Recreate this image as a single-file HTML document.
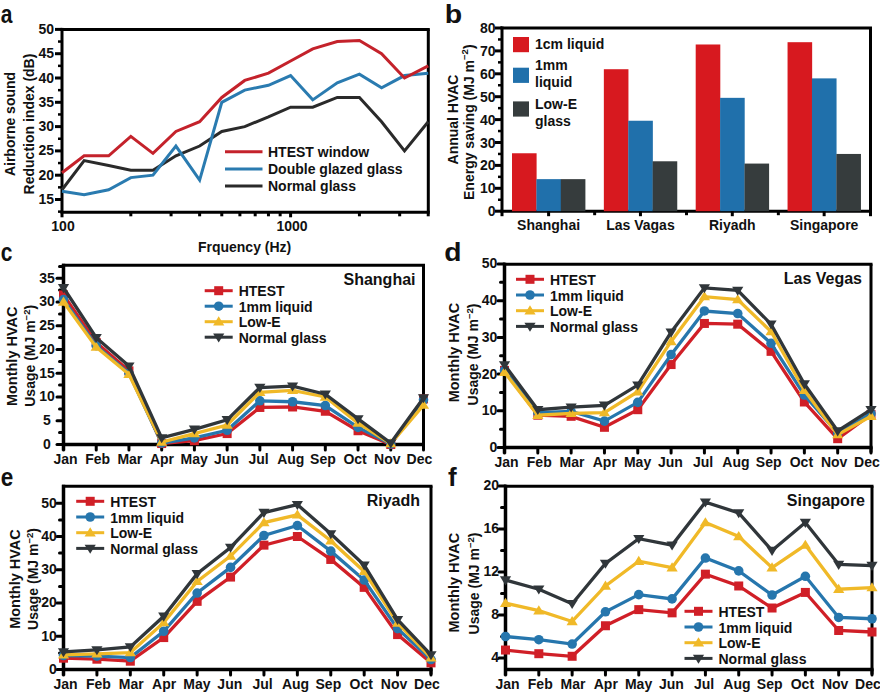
<!DOCTYPE html>
<html><head><meta charset="utf-8"><style>
html,body{margin:0;padding:0;background:#fff;width:880px;height:696px;overflow:hidden}
svg{display:block}
text{font-family:"Liberation Sans", sans-serif;fill:#111}
</style></head><body>
<svg width="880" height="696" viewBox="0 0 880 696">
<text transform="translate(0.8,22.7) scale(0.84,1)" font-size="25" font-weight="bold">a</text>
<text transform="translate(444.7,22.7) scale(1.14,1)" font-size="25" font-weight="bold">b</text>
<text transform="translate(0.8,261) scale(0.84,1)" font-size="25" font-weight="bold">c</text>
<text transform="translate(444.3,260.5) scale(1.13,1)" font-size="25" font-weight="bold">d</text>
<text transform="translate(0.8,486.4) scale(0.9,1)" font-size="25" font-weight="bold">e</text>
<text transform="translate(447.9,486.4) scale(1.04,1)" font-size="25" font-weight="bold">f</text>
<line x1="60.50" y1="29.40" x2="429.80" y2="29.40" stroke="#000" stroke-width="3" stroke-linecap="butt"/>
<line x1="428.30" y1="29.40" x2="428.30" y2="212.30" stroke="#000" stroke-width="3" stroke-linecap="butt"/>
<line x1="60.50" y1="212.30" x2="429.80" y2="212.30" stroke="#000" stroke-width="3" stroke-linecap="butt"/>
<line x1="62.00" y1="27.90" x2="62.00" y2="217.30" stroke="#000" stroke-width="3" stroke-linecap="butt"/>
<line x1="55.00" y1="199.50" x2="62.00" y2="199.50" stroke="#000" stroke-width="3" stroke-linecap="butt"/>
<text x="54.00" y="204.00" font-size="14" text-anchor="end" font-weight="bold" >15</text>
<line x1="55.00" y1="175.20" x2="62.00" y2="175.20" stroke="#000" stroke-width="3" stroke-linecap="butt"/>
<text x="54.00" y="179.70" font-size="14" text-anchor="end" font-weight="bold" >20</text>
<line x1="55.00" y1="150.90" x2="62.00" y2="150.90" stroke="#000" stroke-width="3" stroke-linecap="butt"/>
<text x="54.00" y="155.40" font-size="14" text-anchor="end" font-weight="bold" >25</text>
<line x1="55.00" y1="126.60" x2="62.00" y2="126.60" stroke="#000" stroke-width="3" stroke-linecap="butt"/>
<text x="54.00" y="131.10" font-size="14" text-anchor="end" font-weight="bold" >30</text>
<line x1="55.00" y1="102.30" x2="62.00" y2="102.30" stroke="#000" stroke-width="3" stroke-linecap="butt"/>
<text x="54.00" y="106.80" font-size="14" text-anchor="end" font-weight="bold" >35</text>
<line x1="55.00" y1="78.00" x2="62.00" y2="78.00" stroke="#000" stroke-width="3" stroke-linecap="butt"/>
<text x="54.00" y="82.50" font-size="14" text-anchor="end" font-weight="bold" >40</text>
<line x1="55.00" y1="53.70" x2="62.00" y2="53.70" stroke="#000" stroke-width="3" stroke-linecap="butt"/>
<text x="54.00" y="58.20" font-size="14" text-anchor="end" font-weight="bold" >45</text>
<line x1="55.00" y1="29.40" x2="62.00" y2="29.40" stroke="#000" stroke-width="3" stroke-linecap="butt"/>
<text x="54.00" y="33.90" font-size="14" text-anchor="end" font-weight="bold" >50</text>
<line x1="58.00" y1="211.65" x2="62.00" y2="211.65" stroke="#000" stroke-width="2.5" stroke-linecap="butt"/>
<line x1="58.00" y1="187.35" x2="62.00" y2="187.35" stroke="#000" stroke-width="2.5" stroke-linecap="butt"/>
<line x1="58.00" y1="163.05" x2="62.00" y2="163.05" stroke="#000" stroke-width="2.5" stroke-linecap="butt"/>
<line x1="58.00" y1="138.75" x2="62.00" y2="138.75" stroke="#000" stroke-width="2.5" stroke-linecap="butt"/>
<line x1="58.00" y1="114.45" x2="62.00" y2="114.45" stroke="#000" stroke-width="2.5" stroke-linecap="butt"/>
<line x1="58.00" y1="90.15" x2="62.00" y2="90.15" stroke="#000" stroke-width="2.5" stroke-linecap="butt"/>
<line x1="58.00" y1="65.85" x2="62.00" y2="65.85" stroke="#000" stroke-width="2.5" stroke-linecap="butt"/>
<line x1="58.00" y1="41.55" x2="62.00" y2="41.55" stroke="#000" stroke-width="2.5" stroke-linecap="butt"/>
<line x1="130.82" y1="212.30" x2="130.82" y2="216.30" stroke="#000" stroke-width="3" stroke-linecap="butt"/>
<line x1="171.07" y1="212.30" x2="171.07" y2="216.30" stroke="#000" stroke-width="3" stroke-linecap="butt"/>
<line x1="199.63" y1="212.30" x2="199.63" y2="216.30" stroke="#000" stroke-width="3" stroke-linecap="butt"/>
<line x1="221.78" y1="212.30" x2="221.78" y2="216.30" stroke="#000" stroke-width="3" stroke-linecap="butt"/>
<line x1="239.89" y1="212.30" x2="239.89" y2="216.30" stroke="#000" stroke-width="3" stroke-linecap="butt"/>
<line x1="255.19" y1="212.30" x2="255.19" y2="216.30" stroke="#000" stroke-width="3" stroke-linecap="butt"/>
<line x1="268.45" y1="212.30" x2="268.45" y2="216.30" stroke="#000" stroke-width="3" stroke-linecap="butt"/>
<line x1="280.14" y1="212.30" x2="280.14" y2="216.30" stroke="#000" stroke-width="3" stroke-linecap="butt"/>
<line x1="359.42" y1="212.30" x2="359.42" y2="216.30" stroke="#000" stroke-width="3" stroke-linecap="butt"/>
<line x1="399.67" y1="212.30" x2="399.67" y2="216.30" stroke="#000" stroke-width="3" stroke-linecap="butt"/>
<line x1="428.23" y1="212.30" x2="428.23" y2="216.30" stroke="#000" stroke-width="3" stroke-linecap="butt"/>
<line x1="290.60" y1="212.30" x2="290.60" y2="217.30" stroke="#000" stroke-width="3" stroke-linecap="butt"/>
<text x="63.00" y="231.00" font-size="14" text-anchor="middle" font-weight="bold" >100</text>
<text x="292.00" y="231.00" font-size="14" text-anchor="middle" font-weight="bold" >1000</text>
<text x="244.60" y="252.00" font-size="14" text-anchor="middle" font-weight="bold" >Frquency (Hz)</text>
<text transform="translate(14.8,124) rotate(-90)" font-size="14" text-anchor="middle" font-weight="bold">Airborne sound</text>
<text transform="translate(33.8,124) rotate(-90)" font-size="14" text-anchor="middle" font-weight="bold">Reduction index (dB)</text>
<polyline points="62.00,189.78 84.15,160.62 108.66,165.48 130.82,170.34 152.97,170.34 175.91,155.76 199.63,146.04 221.78,131.46 244.73,126.60 268.45,116.88 290.60,107.16 312.75,107.16 337.26,97.44 359.42,97.44 381.57,121.74 404.51,150.90 428.23,121.74" fill="none" stroke="#2a2a2a" stroke-width="3" stroke-linejoin="miter" stroke-miterlimit="3"/>
<polyline points="62.00,191.24 84.15,194.64 108.66,189.78 130.82,177.63 152.97,175.20 175.91,146.04 199.63,180.06 221.78,102.30 244.73,90.15 268.45,85.29 290.60,75.57 312.75,99.87 337.26,82.86 359.42,74.11 381.57,87.72 404.51,75.57 428.23,73.14" fill="none" stroke="#2a7bb0" stroke-width="3" stroke-linejoin="miter" stroke-miterlimit="3"/>
<polyline points="62.00,172.77 84.15,155.76 108.66,155.76 130.82,136.32 152.97,153.33 175.91,131.46 199.63,121.74 221.78,97.44 244.73,80.43 268.45,73.14 290.60,60.99 312.75,48.84 337.26,41.55 359.42,40.58 381.57,53.70 404.51,78.00 428.23,65.85" fill="none" stroke="#c4222b" stroke-width="3" stroke-linejoin="miter" stroke-miterlimit="3"/>
<line x1="225.00" y1="151.80" x2="262.50" y2="151.80" stroke="#c4222b" stroke-width="3" stroke-linecap="butt"/>
<text x="268.00" y="156.80" font-size="14" text-anchor="start" font-weight="bold" >HTEST window</text>
<line x1="225.00" y1="168.95" x2="262.50" y2="168.95" stroke="#2a7bb0" stroke-width="3" stroke-linecap="butt"/>
<text x="268.00" y="173.95" font-size="14" text-anchor="start" font-weight="bold" >Double glazed glass</text>
<line x1="225.00" y1="186.10" x2="262.50" y2="186.10" stroke="#2a2a2a" stroke-width="3" stroke-linecap="butt"/>
<text x="268.00" y="191.10" font-size="14" text-anchor="start" font-weight="bold" >Normal glass</text>
<line x1="500.50" y1="28.00" x2="872.00" y2="28.00" stroke="#000" stroke-width="3" stroke-linecap="butt"/>
<line x1="870.50" y1="28.00" x2="870.50" y2="216.20" stroke="#000" stroke-width="3" stroke-linecap="butt"/>
<line x1="500.50" y1="211.20" x2="872.00" y2="211.20" stroke="#000" stroke-width="3" stroke-linecap="butt"/>
<line x1="502.00" y1="26.50" x2="502.00" y2="216.20" stroke="#000" stroke-width="3" stroke-linecap="butt"/>
<line x1="495.00" y1="211.20" x2="502.00" y2="211.20" stroke="#000" stroke-width="3" stroke-linecap="butt"/>
<text x="495.50" y="216.20" font-size="14" text-anchor="end" font-weight="bold" >0</text>
<line x1="495.00" y1="188.30" x2="502.00" y2="188.30" stroke="#000" stroke-width="3" stroke-linecap="butt"/>
<text x="495.50" y="193.30" font-size="14" text-anchor="end" font-weight="bold" >10</text>
<line x1="495.00" y1="165.40" x2="502.00" y2="165.40" stroke="#000" stroke-width="3" stroke-linecap="butt"/>
<text x="495.50" y="170.40" font-size="14" text-anchor="end" font-weight="bold" >20</text>
<line x1="495.00" y1="142.50" x2="502.00" y2="142.50" stroke="#000" stroke-width="3" stroke-linecap="butt"/>
<text x="495.50" y="147.50" font-size="14" text-anchor="end" font-weight="bold" >30</text>
<line x1="495.00" y1="119.60" x2="502.00" y2="119.60" stroke="#000" stroke-width="3" stroke-linecap="butt"/>
<text x="495.50" y="124.60" font-size="14" text-anchor="end" font-weight="bold" >40</text>
<line x1="495.00" y1="96.70" x2="502.00" y2="96.70" stroke="#000" stroke-width="3" stroke-linecap="butt"/>
<text x="495.50" y="101.70" font-size="14" text-anchor="end" font-weight="bold" >50</text>
<line x1="495.00" y1="73.80" x2="502.00" y2="73.80" stroke="#000" stroke-width="3" stroke-linecap="butt"/>
<text x="495.50" y="78.80" font-size="14" text-anchor="end" font-weight="bold" >60</text>
<line x1="495.00" y1="50.90" x2="502.00" y2="50.90" stroke="#000" stroke-width="3" stroke-linecap="butt"/>
<text x="495.50" y="55.90" font-size="14" text-anchor="end" font-weight="bold" >70</text>
<line x1="495.00" y1="28.00" x2="502.00" y2="28.00" stroke="#000" stroke-width="3" stroke-linecap="butt"/>
<text x="495.50" y="33.00" font-size="14" text-anchor="end" font-weight="bold" >80</text>
<line x1="498.00" y1="199.75" x2="502.00" y2="199.75" stroke="#000" stroke-width="2.5" stroke-linecap="butt"/>
<line x1="498.00" y1="176.85" x2="502.00" y2="176.85" stroke="#000" stroke-width="2.5" stroke-linecap="butt"/>
<line x1="498.00" y1="153.95" x2="502.00" y2="153.95" stroke="#000" stroke-width="2.5" stroke-linecap="butt"/>
<line x1="498.00" y1="131.05" x2="502.00" y2="131.05" stroke="#000" stroke-width="2.5" stroke-linecap="butt"/>
<line x1="498.00" y1="108.15" x2="502.00" y2="108.15" stroke="#000" stroke-width="2.5" stroke-linecap="butt"/>
<line x1="498.00" y1="85.25" x2="502.00" y2="85.25" stroke="#000" stroke-width="2.5" stroke-linecap="butt"/>
<line x1="498.00" y1="62.35" x2="502.00" y2="62.35" stroke="#000" stroke-width="2.5" stroke-linecap="butt"/>
<line x1="498.00" y1="39.45" x2="502.00" y2="39.45" stroke="#000" stroke-width="2.5" stroke-linecap="butt"/>
<rect x="512.00" y="153.26" width="24.6" height="57.94" fill="#d7191f"/>
<rect x="536.40" y="179.14" width="24.6" height="32.06" fill="#2070ab"/>
<rect x="560.80" y="179.14" width="24.6" height="32.06" fill="#363c3d"/>
<line x1="548.60" y1="211.20" x2="548.60" y2="216.20" stroke="#000" stroke-width="3" stroke-linecap="butt"/>
<text x="548.60" y="230.00" font-size="14" text-anchor="middle" font-weight="bold" >Shanghai</text>
<rect x="603.85" y="69.22" width="24.6" height="141.98" fill="#d7191f"/>
<rect x="628.25" y="120.74" width="24.6" height="90.45" fill="#2070ab"/>
<rect x="652.65" y="161.28" width="24.6" height="49.92" fill="#363c3d"/>
<line x1="640.45" y1="211.20" x2="640.45" y2="216.20" stroke="#000" stroke-width="3" stroke-linecap="butt"/>
<line x1="594.65" y1="211.20" x2="594.65" y2="215.20" stroke="#000" stroke-width="3" stroke-linecap="butt"/>
<text x="640.45" y="230.00" font-size="14" text-anchor="middle" font-weight="bold" >Las Vagas</text>
<rect x="695.70" y="44.49" width="24.6" height="166.71" fill="#d7191f"/>
<rect x="720.10" y="97.84" width="24.6" height="113.36" fill="#2070ab"/>
<rect x="744.50" y="163.57" width="24.6" height="47.63" fill="#363c3d"/>
<line x1="732.30" y1="211.20" x2="732.30" y2="216.20" stroke="#000" stroke-width="3" stroke-linecap="butt"/>
<line x1="686.50" y1="211.20" x2="686.50" y2="215.20" stroke="#000" stroke-width="3" stroke-linecap="butt"/>
<text x="732.30" y="230.00" font-size="14" text-anchor="middle" font-weight="bold" >Riyadh</text>
<rect x="787.55" y="42.20" width="24.6" height="169.00" fill="#d7191f"/>
<rect x="811.95" y="78.38" width="24.6" height="132.82" fill="#2070ab"/>
<rect x="836.35" y="153.95" width="24.6" height="57.25" fill="#363c3d"/>
<line x1="824.15" y1="211.20" x2="824.15" y2="216.20" stroke="#000" stroke-width="3" stroke-linecap="butt"/>
<line x1="778.35" y1="211.20" x2="778.35" y2="215.20" stroke="#000" stroke-width="3" stroke-linecap="butt"/>
<text x="824.15" y="230.00" font-size="14" text-anchor="middle" font-weight="bold" >Singapore</text>
<text transform="translate(458,119.5) rotate(-90)" font-size="14" text-anchor="middle" font-weight="bold">Annual HVAC</text>
<text transform="translate(473.7,122.2) rotate(-90)" font-size="14" text-anchor="middle" font-weight="bold">Energy saving (MJ m<tspan dy="-5.5" font-size="9.5">−2</tspan><tspan dy="5.5">)</tspan></text>
<rect x="513" y="37.0" width="16" height="15.2" fill="#d7191f"/>
<text x="535.00" y="49.20" font-size="14" text-anchor="start" font-weight="bold" >1cm liquid</text>
<rect x="513" y="67.7" width="16" height="15.2" fill="#2070ab"/>
<text x="535.00" y="69.50" font-size="14" text-anchor="start" font-weight="bold" >1mm</text>
<text x="535.00" y="87.20" font-size="14" text-anchor="start" font-weight="bold" >liquid</text>
<rect x="513" y="101.4" width="16" height="15.2" fill="#363c3d"/>
<text x="535.00" y="108.50" font-size="14" text-anchor="start" font-weight="bold" >Low-E</text>
<text x="535.00" y="126.20" font-size="14" text-anchor="start" font-weight="bold" >glass</text>
<line x1="62.00" y1="265.30" x2="425.00" y2="265.30" stroke="#000" stroke-width="3" stroke-linecap="butt"/>
<line x1="423.50" y1="265.30" x2="423.50" y2="449.50" stroke="#000" stroke-width="3" stroke-linecap="butt"/>
<line x1="62.00" y1="444.50" x2="425.00" y2="444.50" stroke="#000" stroke-width="3.5" stroke-linecap="butt"/>
<line x1="63.50" y1="263.80" x2="63.50" y2="450.50" stroke="#000" stroke-width="3.5" stroke-linecap="butt"/>
<line x1="57.00" y1="444.50" x2="63.50" y2="444.50" stroke="#000" stroke-width="3" stroke-linecap="round"/>
<text x="47.00" y="448.90" font-size="14" text-anchor="middle" font-weight="bold" >0</text>
<line x1="57.00" y1="420.75" x2="63.50" y2="420.75" stroke="#000" stroke-width="3" stroke-linecap="round"/>
<text x="47.00" y="425.15" font-size="14" text-anchor="middle" font-weight="bold" >5</text>
<line x1="57.00" y1="397.00" x2="63.50" y2="397.00" stroke="#000" stroke-width="3" stroke-linecap="round"/>
<text x="47.00" y="401.40" font-size="14" text-anchor="middle" font-weight="bold" >10</text>
<line x1="57.00" y1="373.25" x2="63.50" y2="373.25" stroke="#000" stroke-width="3" stroke-linecap="round"/>
<text x="47.00" y="377.65" font-size="14" text-anchor="middle" font-weight="bold" >15</text>
<line x1="57.00" y1="349.50" x2="63.50" y2="349.50" stroke="#000" stroke-width="3" stroke-linecap="round"/>
<text x="47.00" y="353.90" font-size="14" text-anchor="middle" font-weight="bold" >20</text>
<line x1="57.00" y1="325.75" x2="63.50" y2="325.75" stroke="#000" stroke-width="3" stroke-linecap="round"/>
<text x="47.00" y="330.15" font-size="14" text-anchor="middle" font-weight="bold" >25</text>
<line x1="57.00" y1="302.00" x2="63.50" y2="302.00" stroke="#000" stroke-width="3" stroke-linecap="round"/>
<text x="47.00" y="306.40" font-size="14" text-anchor="middle" font-weight="bold" >30</text>
<line x1="57.00" y1="278.25" x2="63.50" y2="278.25" stroke="#000" stroke-width="3" stroke-linecap="round"/>
<text x="47.00" y="282.65" font-size="14" text-anchor="middle" font-weight="bold" >35</text>
<line x1="59.50" y1="432.62" x2="63.50" y2="432.62" stroke="#000" stroke-width="3" stroke-linecap="round"/>
<line x1="59.50" y1="408.88" x2="63.50" y2="408.88" stroke="#000" stroke-width="3" stroke-linecap="round"/>
<line x1="59.50" y1="385.12" x2="63.50" y2="385.12" stroke="#000" stroke-width="3" stroke-linecap="round"/>
<line x1="59.50" y1="361.38" x2="63.50" y2="361.38" stroke="#000" stroke-width="3" stroke-linecap="round"/>
<line x1="59.50" y1="337.62" x2="63.50" y2="337.62" stroke="#000" stroke-width="3" stroke-linecap="round"/>
<line x1="59.50" y1="313.88" x2="63.50" y2="313.88" stroke="#000" stroke-width="3" stroke-linecap="round"/>
<line x1="59.50" y1="290.12" x2="63.50" y2="290.12" stroke="#000" stroke-width="3" stroke-linecap="round"/>
<line x1="59.50" y1="266.38" x2="63.50" y2="266.38" stroke="#000" stroke-width="3" stroke-linecap="round"/>
<line x1="63.50" y1="444.50" x2="63.50" y2="450.00" stroke="#000" stroke-width="3" stroke-linecap="round"/>
<text x="65.50" y="463.70" font-size="14" text-anchor="middle" font-weight="bold" >Jan</text>
<line x1="96.23" y1="444.50" x2="96.23" y2="450.00" stroke="#000" stroke-width="3" stroke-linecap="round"/>
<text x="97.68" y="463.70" font-size="14" text-anchor="middle" font-weight="bold" >Feb</text>
<line x1="128.95" y1="444.50" x2="128.95" y2="450.00" stroke="#000" stroke-width="3" stroke-linecap="round"/>
<text x="129.85" y="463.70" font-size="14" text-anchor="middle" font-weight="bold" >Mar</text>
<line x1="161.68" y1="444.50" x2="161.68" y2="450.00" stroke="#000" stroke-width="3" stroke-linecap="round"/>
<text x="162.03" y="463.70" font-size="14" text-anchor="middle" font-weight="bold" >Apr</text>
<line x1="194.41" y1="444.50" x2="194.41" y2="450.00" stroke="#000" stroke-width="3" stroke-linecap="round"/>
<text x="194.21" y="463.70" font-size="14" text-anchor="middle" font-weight="bold" >May</text>
<line x1="227.14" y1="444.50" x2="227.14" y2="450.00" stroke="#000" stroke-width="3" stroke-linecap="round"/>
<text x="226.39" y="463.70" font-size="14" text-anchor="middle" font-weight="bold" >Jun</text>
<line x1="259.86" y1="444.50" x2="259.86" y2="450.00" stroke="#000" stroke-width="3" stroke-linecap="round"/>
<text x="258.56" y="463.70" font-size="14" text-anchor="middle" font-weight="bold" >Jul</text>
<line x1="292.59" y1="444.50" x2="292.59" y2="450.00" stroke="#000" stroke-width="3" stroke-linecap="round"/>
<text x="290.74" y="463.70" font-size="14" text-anchor="middle" font-weight="bold" >Aug</text>
<line x1="325.32" y1="444.50" x2="325.32" y2="450.00" stroke="#000" stroke-width="3" stroke-linecap="round"/>
<text x="322.92" y="463.70" font-size="14" text-anchor="middle" font-weight="bold" >Sep</text>
<line x1="358.05" y1="444.50" x2="358.05" y2="450.00" stroke="#000" stroke-width="3" stroke-linecap="round"/>
<text x="355.10" y="463.70" font-size="14" text-anchor="middle" font-weight="bold" >Oct</text>
<line x1="390.77" y1="444.50" x2="390.77" y2="450.00" stroke="#000" stroke-width="3" stroke-linecap="round"/>
<text x="387.27" y="463.70" font-size="14" text-anchor="middle" font-weight="bold" >Nov</text>
<line x1="423.50" y1="444.50" x2="423.50" y2="450.00" stroke="#000" stroke-width="3" stroke-linecap="round"/>
<text x="419.45" y="463.70" font-size="14" text-anchor="middle" font-weight="bold" >Dec</text>
<polyline points="63.50,294.88 96.23,342.38 128.95,370.88 161.68,443.55 194.41,440.70 227.14,433.57 259.86,407.45 292.59,406.98 325.32,411.25 358.05,430.73 390.77,444.50 423.50,398.90" fill="none" stroke="#d01f27" stroke-width="3.3" stroke-linejoin="miter" stroke-miterlimit="3"/>
<rect x="59.00" y="290.38" width="9" height="9" fill="#d01f27"/>
<rect x="91.73" y="337.88" width="9" height="9" fill="#d01f27"/>
<rect x="124.45" y="366.38" width="9" height="9" fill="#d01f27"/>
<rect x="157.18" y="439.05" width="9" height="9" fill="#d01f27"/>
<rect x="189.91" y="436.20" width="9" height="9" fill="#d01f27"/>
<rect x="222.64" y="429.07" width="9" height="9" fill="#d01f27"/>
<rect x="255.36" y="402.95" width="9" height="9" fill="#d01f27"/>
<rect x="288.09" y="402.48" width="9" height="9" fill="#d01f27"/>
<rect x="320.82" y="406.75" width="9" height="9" fill="#d01f27"/>
<rect x="353.55" y="426.23" width="9" height="9" fill="#d01f27"/>
<rect x="386.27" y="440.00" width="9" height="9" fill="#d01f27"/>
<rect x="419.00" y="394.40" width="9" height="9" fill="#d01f27"/>
<polyline points="63.50,299.62 96.23,345.70 128.95,373.25 161.68,443.07 194.41,437.85 227.14,430.25 259.86,400.80 292.59,401.75 325.32,405.55 358.05,427.40 390.77,444.02 423.50,399.85" fill="none" stroke="#2676ad" stroke-width="3.3" stroke-linejoin="miter" stroke-miterlimit="3"/>
<circle cx="63.50" cy="299.62" r="4.8" fill="#2676ad"/>
<circle cx="96.23" cy="345.70" r="4.8" fill="#2676ad"/>
<circle cx="128.95" cy="373.25" r="4.8" fill="#2676ad"/>
<circle cx="161.68" cy="443.07" r="4.8" fill="#2676ad"/>
<circle cx="194.41" cy="437.85" r="4.8" fill="#2676ad"/>
<circle cx="227.14" cy="430.25" r="4.8" fill="#2676ad"/>
<circle cx="259.86" cy="400.80" r="4.8" fill="#2676ad"/>
<circle cx="292.59" cy="401.75" r="4.8" fill="#2676ad"/>
<circle cx="325.32" cy="405.55" r="4.8" fill="#2676ad"/>
<circle cx="358.05" cy="427.40" r="4.8" fill="#2676ad"/>
<circle cx="390.77" cy="444.02" r="4.8" fill="#2676ad"/>
<circle cx="423.50" cy="399.85" r="4.8" fill="#2676ad"/>
<polyline points="63.50,302.00 96.23,347.12 128.95,374.20 161.68,442.12 194.41,433.57 227.14,425.02 259.86,392.25 292.59,390.35 325.32,397.00 358.05,423.12 390.77,443.55 423.50,405.07" fill="none" stroke="#f0b928" stroke-width="3.3" stroke-linejoin="miter" stroke-miterlimit="3"/>
<polygon points="63.50,296.60 69.10,305.70 57.90,305.70" fill="#f0b928"/>
<polygon points="96.23,341.73 101.83,350.82 90.63,350.82" fill="#f0b928"/>
<polygon points="128.95,368.80 134.55,377.90 123.35,377.90" fill="#f0b928"/>
<polygon points="161.68,436.73 167.28,445.82 156.08,445.82" fill="#f0b928"/>
<polygon points="194.41,428.18 200.01,437.27 188.81,437.27" fill="#f0b928"/>
<polygon points="227.14,419.62 232.74,428.72 221.54,428.72" fill="#f0b928"/>
<polygon points="259.86,386.85 265.46,395.95 254.26,395.95" fill="#f0b928"/>
<polygon points="292.59,384.95 298.19,394.05 286.99,394.05" fill="#f0b928"/>
<polygon points="325.32,391.60 330.92,400.70 319.72,400.70" fill="#f0b928"/>
<polygon points="358.05,417.73 363.65,426.82 352.45,426.82" fill="#f0b928"/>
<polygon points="390.77,438.15 396.37,447.25 385.17,447.25" fill="#f0b928"/>
<polygon points="423.50,399.68 429.10,408.77 417.90,408.77" fill="#f0b928"/>
<polyline points="63.50,287.75 96.23,337.62 128.95,366.12 161.68,437.85 194.41,429.30 227.14,419.80 259.86,387.50 292.59,386.07 325.32,394.15 358.05,418.85 390.77,443.07 423.50,397.95" fill="none" stroke="#30363a" stroke-width="3.3" stroke-linejoin="miter" stroke-miterlimit="3"/>
<polygon points="63.50,293.15 69.10,284.05 57.90,284.05" fill="#30363a"/>
<polygon points="96.23,343.02 101.83,333.93 90.63,333.93" fill="#30363a"/>
<polygon points="128.95,371.52 134.55,362.43 123.35,362.43" fill="#30363a"/>
<polygon points="161.68,443.25 167.28,434.15 156.08,434.15" fill="#30363a"/>
<polygon points="194.41,434.70 200.01,425.60 188.81,425.60" fill="#30363a"/>
<polygon points="227.14,425.20 232.74,416.10 221.54,416.10" fill="#30363a"/>
<polygon points="259.86,392.90 265.46,383.80 254.26,383.80" fill="#30363a"/>
<polygon points="292.59,391.47 298.19,382.38 286.99,382.38" fill="#30363a"/>
<polygon points="325.32,399.55 330.92,390.45 319.72,390.45" fill="#30363a"/>
<polygon points="358.05,424.25 363.65,415.15 352.45,415.15" fill="#30363a"/>
<polygon points="390.77,448.47 396.37,439.38 385.17,439.38" fill="#30363a"/>
<polygon points="423.50,403.35 429.10,394.25 417.90,394.25" fill="#30363a"/>
<text x="415.50" y="285.00" font-size="16" text-anchor="end" font-weight="bold" >Shanghai</text>
<line x1="204.70" y1="290.70" x2="232.70" y2="290.70" stroke="#d01f27" stroke-width="3" stroke-linecap="butt"/>
<rect x="214.20" y="286.20" width="9" height="9" fill="#d01f27"/>
<text x="238.70" y="296.20" font-size="14" text-anchor="start" font-weight="bold" >HTEST</text>
<line x1="204.70" y1="306.20" x2="232.70" y2="306.20" stroke="#2676ad" stroke-width="3" stroke-linecap="butt"/>
<circle cx="218.70" cy="306.20" r="4.8" fill="#2676ad"/>
<text x="238.70" y="311.70" font-size="14" text-anchor="start" font-weight="bold" >1mm liquid</text>
<line x1="204.70" y1="321.70" x2="232.70" y2="321.70" stroke="#f0b928" stroke-width="3" stroke-linecap="butt"/>
<polygon points="218.70,316.30 224.30,325.40 213.10,325.40" fill="#f0b928"/>
<text x="238.70" y="327.20" font-size="14" text-anchor="start" font-weight="bold" >Low-E</text>
<line x1="204.70" y1="337.20" x2="232.70" y2="337.20" stroke="#30363a" stroke-width="3" stroke-linecap="butt"/>
<polygon points="218.70,342.60 224.30,333.50 213.10,333.50" fill="#30363a"/>
<text x="238.70" y="342.70" font-size="14" text-anchor="start" font-weight="bold" >Normal glass</text>
<text transform="translate(17.2,356.3) rotate(-90)" font-size="14.5" text-anchor="middle" font-weight="bold">Monthly HVAC</text>
<text transform="translate(35.3,355.8) rotate(-90)" font-size="14" text-anchor="middle" font-weight="bold">Usage (MJ m<tspan dy="-5.5" font-size="9.5">−2</tspan><tspan dy="5.5">)</tspan></text>
<line x1="503.00" y1="264.20" x2="872.50" y2="264.20" stroke="#000" stroke-width="3" stroke-linecap="butt"/>
<line x1="871.00" y1="264.20" x2="871.00" y2="452.50" stroke="#000" stroke-width="3" stroke-linecap="butt"/>
<line x1="503.00" y1="447.50" x2="872.50" y2="447.50" stroke="#000" stroke-width="3.5" stroke-linecap="butt"/>
<line x1="504.50" y1="262.70" x2="504.50" y2="453.50" stroke="#000" stroke-width="3.5" stroke-linecap="butt"/>
<line x1="498.00" y1="447.50" x2="504.50" y2="447.50" stroke="#000" stroke-width="3" stroke-linecap="round"/>
<text x="497.30" y="451.90" font-size="14" text-anchor="end" font-weight="bold" >0</text>
<line x1="498.00" y1="410.80" x2="504.50" y2="410.80" stroke="#000" stroke-width="3" stroke-linecap="round"/>
<text x="497.30" y="415.20" font-size="14" text-anchor="end" font-weight="bold" >10</text>
<line x1="498.00" y1="374.10" x2="504.50" y2="374.10" stroke="#000" stroke-width="3" stroke-linecap="round"/>
<text x="497.30" y="378.50" font-size="14" text-anchor="end" font-weight="bold" >20</text>
<line x1="498.00" y1="337.40" x2="504.50" y2="337.40" stroke="#000" stroke-width="3" stroke-linecap="round"/>
<text x="497.30" y="341.80" font-size="14" text-anchor="end" font-weight="bold" >30</text>
<line x1="498.00" y1="300.70" x2="504.50" y2="300.70" stroke="#000" stroke-width="3" stroke-linecap="round"/>
<text x="497.30" y="305.10" font-size="14" text-anchor="end" font-weight="bold" >40</text>
<line x1="498.00" y1="264.00" x2="504.50" y2="264.00" stroke="#000" stroke-width="3" stroke-linecap="round"/>
<text x="497.30" y="268.40" font-size="14" text-anchor="end" font-weight="bold" >50</text>
<line x1="500.50" y1="429.15" x2="504.50" y2="429.15" stroke="#000" stroke-width="3" stroke-linecap="round"/>
<line x1="500.50" y1="392.45" x2="504.50" y2="392.45" stroke="#000" stroke-width="3" stroke-linecap="round"/>
<line x1="500.50" y1="355.75" x2="504.50" y2="355.75" stroke="#000" stroke-width="3" stroke-linecap="round"/>
<line x1="500.50" y1="319.05" x2="504.50" y2="319.05" stroke="#000" stroke-width="3" stroke-linecap="round"/>
<line x1="500.50" y1="282.35" x2="504.50" y2="282.35" stroke="#000" stroke-width="3" stroke-linecap="round"/>
<line x1="504.50" y1="447.50" x2="504.50" y2="453.00" stroke="#000" stroke-width="3" stroke-linecap="round"/>
<text x="506.50" y="466.70" font-size="14" text-anchor="middle" font-weight="bold" >Jan</text>
<line x1="537.82" y1="447.50" x2="537.82" y2="453.00" stroke="#000" stroke-width="3" stroke-linecap="round"/>
<text x="539.27" y="466.70" font-size="14" text-anchor="middle" font-weight="bold" >Feb</text>
<line x1="571.14" y1="447.50" x2="571.14" y2="453.00" stroke="#000" stroke-width="3" stroke-linecap="round"/>
<text x="572.04" y="466.70" font-size="14" text-anchor="middle" font-weight="bold" >Mar</text>
<line x1="604.45" y1="447.50" x2="604.45" y2="453.00" stroke="#000" stroke-width="3" stroke-linecap="round"/>
<text x="604.80" y="466.70" font-size="14" text-anchor="middle" font-weight="bold" >Apr</text>
<line x1="637.77" y1="447.50" x2="637.77" y2="453.00" stroke="#000" stroke-width="3" stroke-linecap="round"/>
<text x="637.57" y="466.70" font-size="14" text-anchor="middle" font-weight="bold" >May</text>
<line x1="671.09" y1="447.50" x2="671.09" y2="453.00" stroke="#000" stroke-width="3" stroke-linecap="round"/>
<text x="670.34" y="466.70" font-size="14" text-anchor="middle" font-weight="bold" >Jun</text>
<line x1="704.41" y1="447.50" x2="704.41" y2="453.00" stroke="#000" stroke-width="3" stroke-linecap="round"/>
<text x="703.11" y="466.70" font-size="14" text-anchor="middle" font-weight="bold" >Jul</text>
<line x1="737.73" y1="447.50" x2="737.73" y2="453.00" stroke="#000" stroke-width="3" stroke-linecap="round"/>
<text x="735.88" y="466.70" font-size="14" text-anchor="middle" font-weight="bold" >Aug</text>
<line x1="771.05" y1="447.50" x2="771.05" y2="453.00" stroke="#000" stroke-width="3" stroke-linecap="round"/>
<text x="768.65" y="466.70" font-size="14" text-anchor="middle" font-weight="bold" >Sep</text>
<line x1="804.36" y1="447.50" x2="804.36" y2="453.00" stroke="#000" stroke-width="3" stroke-linecap="round"/>
<text x="801.41" y="466.70" font-size="14" text-anchor="middle" font-weight="bold" >Oct</text>
<line x1="837.68" y1="447.50" x2="837.68" y2="453.00" stroke="#000" stroke-width="3" stroke-linecap="round"/>
<text x="834.18" y="466.70" font-size="14" text-anchor="middle" font-weight="bold" >Nov</text>
<line x1="871.00" y1="447.50" x2="871.00" y2="453.00" stroke="#000" stroke-width="3" stroke-linecap="round"/>
<text x="866.95" y="466.70" font-size="14" text-anchor="middle" font-weight="bold" >Dec</text>
<polyline points="504.50,370.43 537.82,415.20 571.14,416.31 604.45,427.31 637.77,409.70 671.09,364.56 704.41,323.45 737.73,324.19 771.05,351.35 804.36,401.99 837.68,438.69 871.00,414.47" fill="none" stroke="#d01f27" stroke-width="3.3" stroke-linejoin="miter" stroke-miterlimit="3"/>
<rect x="500.00" y="365.93" width="9" height="9" fill="#d01f27"/>
<rect x="533.32" y="410.70" width="9" height="9" fill="#d01f27"/>
<rect x="566.64" y="411.81" width="9" height="9" fill="#d01f27"/>
<rect x="599.95" y="422.81" width="9" height="9" fill="#d01f27"/>
<rect x="633.27" y="405.20" width="9" height="9" fill="#d01f27"/>
<rect x="666.59" y="360.06" width="9" height="9" fill="#d01f27"/>
<rect x="699.91" y="318.95" width="9" height="9" fill="#d01f27"/>
<rect x="733.23" y="319.69" width="9" height="9" fill="#d01f27"/>
<rect x="766.55" y="346.85" width="9" height="9" fill="#d01f27"/>
<rect x="799.86" y="397.49" width="9" height="9" fill="#d01f27"/>
<rect x="833.18" y="434.19" width="9" height="9" fill="#d01f27"/>
<rect x="866.50" y="409.97" width="9" height="9" fill="#d01f27"/>
<polyline points="504.50,370.43 537.82,412.63 571.14,411.53 604.45,421.08 637.77,402.36 671.09,354.65 704.41,310.98 737.73,313.55 771.05,343.27 804.36,395.02 837.68,433.19 871.00,413.74" fill="none" stroke="#2676ad" stroke-width="3.3" stroke-linejoin="miter" stroke-miterlimit="3"/>
<circle cx="504.50" cy="370.43" r="4.8" fill="#2676ad"/>
<circle cx="537.82" cy="412.63" r="4.8" fill="#2676ad"/>
<circle cx="571.14" cy="411.53" r="4.8" fill="#2676ad"/>
<circle cx="604.45" cy="421.08" r="4.8" fill="#2676ad"/>
<circle cx="637.77" cy="402.36" r="4.8" fill="#2676ad"/>
<circle cx="671.09" cy="354.65" r="4.8" fill="#2676ad"/>
<circle cx="704.41" cy="310.98" r="4.8" fill="#2676ad"/>
<circle cx="737.73" cy="313.55" r="4.8" fill="#2676ad"/>
<circle cx="771.05" cy="343.27" r="4.8" fill="#2676ad"/>
<circle cx="804.36" cy="395.02" r="4.8" fill="#2676ad"/>
<circle cx="837.68" cy="433.19" r="4.8" fill="#2676ad"/>
<circle cx="871.00" cy="413.74" r="4.8" fill="#2676ad"/>
<polyline points="504.50,372.26 537.82,415.20 571.14,413.37 604.45,412.63 637.77,391.72 671.09,341.44 704.41,296.66 737.73,299.60 771.05,331.53 804.36,390.25 837.68,434.65 871.00,416.31" fill="none" stroke="#f0b928" stroke-width="3.3" stroke-linejoin="miter" stroke-miterlimit="3"/>
<polygon points="504.50,366.87 510.10,375.96 498.90,375.96" fill="#f0b928"/>
<polygon points="537.82,409.80 543.42,418.90 532.22,418.90" fill="#f0b928"/>
<polygon points="571.14,407.97 576.74,417.07 565.54,417.07" fill="#f0b928"/>
<polygon points="604.45,407.24 610.05,416.33 598.85,416.33" fill="#f0b928"/>
<polygon points="637.77,386.32 643.37,395.42 632.17,395.42" fill="#f0b928"/>
<polygon points="671.09,336.04 676.69,345.14 665.49,345.14" fill="#f0b928"/>
<polygon points="704.41,291.26 710.01,300.36 698.81,300.36" fill="#f0b928"/>
<polygon points="737.73,294.20 743.33,303.30 732.13,303.30" fill="#f0b928"/>
<polygon points="771.05,326.13 776.65,335.23 765.45,335.23" fill="#f0b928"/>
<polygon points="804.36,384.85 809.96,393.95 798.76,393.95" fill="#f0b928"/>
<polygon points="837.68,429.25 843.28,438.35 832.08,438.35" fill="#f0b928"/>
<polygon points="871.00,410.91 876.60,420.00 865.40,420.00" fill="#f0b928"/>
<polyline points="504.50,364.93 537.82,409.70 571.14,407.13 604.45,405.30 637.77,385.11 671.09,332.26 704.41,287.86 737.73,290.42 771.05,324.19 804.36,384.01 837.68,430.99 871.00,409.70" fill="none" stroke="#30363a" stroke-width="3.3" stroke-linejoin="miter" stroke-miterlimit="3"/>
<polygon points="504.50,370.32 510.10,361.23 498.90,361.23" fill="#30363a"/>
<polygon points="537.82,415.10 543.42,406.00 532.22,406.00" fill="#30363a"/>
<polygon points="571.14,412.53 576.74,403.43 565.54,403.43" fill="#30363a"/>
<polygon points="604.45,410.69 610.05,401.60 598.85,401.60" fill="#30363a"/>
<polygon points="637.77,390.51 643.37,381.41 632.17,381.41" fill="#30363a"/>
<polygon points="671.09,337.66 676.69,328.56 665.49,328.56" fill="#30363a"/>
<polygon points="704.41,293.25 710.01,284.16 698.81,284.16" fill="#30363a"/>
<polygon points="737.73,295.82 743.33,286.72 732.13,286.72" fill="#30363a"/>
<polygon points="771.05,329.59 776.65,320.49 765.45,320.49" fill="#30363a"/>
<polygon points="804.36,389.41 809.96,380.31 798.76,380.31" fill="#30363a"/>
<polygon points="837.68,436.38 843.28,427.29 832.08,427.29" fill="#30363a"/>
<polygon points="871.00,415.10 876.60,406.00 865.40,406.00" fill="#30363a"/>
<text x="862.00" y="283.70" font-size="16" text-anchor="end" font-weight="bold" >Las Vegas</text>
<line x1="516.00" y1="279.30" x2="544.00" y2="279.30" stroke="#d01f27" stroke-width="3" stroke-linecap="butt"/>
<rect x="525.50" y="274.80" width="9" height="9" fill="#d01f27"/>
<text x="550.00" y="284.80" font-size="14" text-anchor="start" font-weight="bold" >HTEST</text>
<line x1="516.00" y1="295.00" x2="544.00" y2="295.00" stroke="#2676ad" stroke-width="3" stroke-linecap="butt"/>
<circle cx="530.00" cy="295.00" r="4.8" fill="#2676ad"/>
<text x="550.00" y="300.50" font-size="14" text-anchor="start" font-weight="bold" >1mm liquid</text>
<line x1="516.00" y1="310.70" x2="544.00" y2="310.70" stroke="#f0b928" stroke-width="3" stroke-linecap="butt"/>
<polygon points="530.00,305.30 535.60,314.40 524.40,314.40" fill="#f0b928"/>
<text x="550.00" y="316.20" font-size="14" text-anchor="start" font-weight="bold" >Low-E</text>
<line x1="516.00" y1="326.40" x2="544.00" y2="326.40" stroke="#30363a" stroke-width="3" stroke-linecap="butt"/>
<polygon points="530.00,331.80 535.60,322.70 524.40,322.70" fill="#30363a"/>
<text x="550.00" y="331.90" font-size="14" text-anchor="start" font-weight="bold" >Normal glass</text>
<text transform="translate(459,352.5) rotate(-90)" font-size="14.5" text-anchor="middle" font-weight="bold">Monthly HVAC</text>
<text transform="translate(478,354.5) rotate(-90)" font-size="14" text-anchor="middle" font-weight="bold">Usage (MJ m<tspan dy="-5.5" font-size="9.5">−2</tspan><tspan dy="5.5">)</tspan></text>
<line x1="62.00" y1="486.20" x2="432.50" y2="486.20" stroke="#000" stroke-width="3" stroke-linecap="butt"/>
<line x1="431.00" y1="486.20" x2="431.00" y2="674.50" stroke="#000" stroke-width="3" stroke-linecap="butt"/>
<line x1="62.00" y1="669.50" x2="432.50" y2="669.50" stroke="#000" stroke-width="3.5" stroke-linecap="butt"/>
<line x1="63.50" y1="484.70" x2="63.50" y2="675.50" stroke="#000" stroke-width="3.5" stroke-linecap="butt"/>
<line x1="57.00" y1="669.50" x2="63.50" y2="669.50" stroke="#000" stroke-width="3" stroke-linecap="round"/>
<text x="56.80" y="673.90" font-size="14" text-anchor="end" font-weight="bold" >0</text>
<line x1="57.00" y1="636.25" x2="63.50" y2="636.25" stroke="#000" stroke-width="3" stroke-linecap="round"/>
<text x="56.80" y="640.65" font-size="14" text-anchor="end" font-weight="bold" >10</text>
<line x1="57.00" y1="603.00" x2="63.50" y2="603.00" stroke="#000" stroke-width="3" stroke-linecap="round"/>
<text x="56.80" y="607.40" font-size="14" text-anchor="end" font-weight="bold" >20</text>
<line x1="57.00" y1="569.75" x2="63.50" y2="569.75" stroke="#000" stroke-width="3" stroke-linecap="round"/>
<text x="56.80" y="574.15" font-size="14" text-anchor="end" font-weight="bold" >30</text>
<line x1="57.00" y1="536.50" x2="63.50" y2="536.50" stroke="#000" stroke-width="3" stroke-linecap="round"/>
<text x="56.80" y="540.90" font-size="14" text-anchor="end" font-weight="bold" >40</text>
<line x1="57.00" y1="503.25" x2="63.50" y2="503.25" stroke="#000" stroke-width="3" stroke-linecap="round"/>
<text x="56.80" y="507.65" font-size="14" text-anchor="end" font-weight="bold" >50</text>
<line x1="59.50" y1="652.88" x2="63.50" y2="652.88" stroke="#000" stroke-width="3" stroke-linecap="round"/>
<line x1="59.50" y1="619.62" x2="63.50" y2="619.62" stroke="#000" stroke-width="3" stroke-linecap="round"/>
<line x1="59.50" y1="586.38" x2="63.50" y2="586.38" stroke="#000" stroke-width="3" stroke-linecap="round"/>
<line x1="59.50" y1="553.12" x2="63.50" y2="553.12" stroke="#000" stroke-width="3" stroke-linecap="round"/>
<line x1="59.50" y1="519.88" x2="63.50" y2="519.88" stroke="#000" stroke-width="3" stroke-linecap="round"/>
<line x1="63.50" y1="669.50" x2="63.50" y2="675.00" stroke="#000" stroke-width="3" stroke-linecap="round"/>
<text x="65.50" y="688.70" font-size="14" text-anchor="middle" font-weight="bold" >Jan</text>
<line x1="96.91" y1="669.50" x2="96.91" y2="675.00" stroke="#000" stroke-width="3" stroke-linecap="round"/>
<text x="98.36" y="688.70" font-size="14" text-anchor="middle" font-weight="bold" >Feb</text>
<line x1="130.32" y1="669.50" x2="130.32" y2="675.00" stroke="#000" stroke-width="3" stroke-linecap="round"/>
<text x="131.22" y="688.70" font-size="14" text-anchor="middle" font-weight="bold" >Mar</text>
<line x1="163.73" y1="669.50" x2="163.73" y2="675.00" stroke="#000" stroke-width="3" stroke-linecap="round"/>
<text x="164.08" y="688.70" font-size="14" text-anchor="middle" font-weight="bold" >Apr</text>
<line x1="197.14" y1="669.50" x2="197.14" y2="675.00" stroke="#000" stroke-width="3" stroke-linecap="round"/>
<text x="196.94" y="688.70" font-size="14" text-anchor="middle" font-weight="bold" >May</text>
<line x1="230.55" y1="669.50" x2="230.55" y2="675.00" stroke="#000" stroke-width="3" stroke-linecap="round"/>
<text x="229.80" y="688.70" font-size="14" text-anchor="middle" font-weight="bold" >Jun</text>
<line x1="263.95" y1="669.50" x2="263.95" y2="675.00" stroke="#000" stroke-width="3" stroke-linecap="round"/>
<text x="262.65" y="688.70" font-size="14" text-anchor="middle" font-weight="bold" >Jul</text>
<line x1="297.36" y1="669.50" x2="297.36" y2="675.00" stroke="#000" stroke-width="3" stroke-linecap="round"/>
<text x="295.51" y="688.70" font-size="14" text-anchor="middle" font-weight="bold" >Aug</text>
<line x1="330.77" y1="669.50" x2="330.77" y2="675.00" stroke="#000" stroke-width="3" stroke-linecap="round"/>
<text x="328.37" y="688.70" font-size="14" text-anchor="middle" font-weight="bold" >Sep</text>
<line x1="364.18" y1="669.50" x2="364.18" y2="675.00" stroke="#000" stroke-width="3" stroke-linecap="round"/>
<text x="361.23" y="688.70" font-size="14" text-anchor="middle" font-weight="bold" >Oct</text>
<line x1="397.59" y1="669.50" x2="397.59" y2="675.00" stroke="#000" stroke-width="3" stroke-linecap="round"/>
<text x="394.09" y="688.70" font-size="14" text-anchor="middle" font-weight="bold" >Nov</text>
<line x1="431.00" y1="669.50" x2="431.00" y2="675.00" stroke="#000" stroke-width="3" stroke-linecap="round"/>
<text x="426.95" y="688.70" font-size="14" text-anchor="middle" font-weight="bold" >Dec</text>
<polyline points="63.50,658.20 96.91,659.19 130.32,661.19 163.73,637.58 197.14,601.34 230.55,577.07 263.95,545.14 297.36,536.50 330.77,559.44 364.18,587.37 397.59,634.59 431.00,662.85" fill="none" stroke="#d01f27" stroke-width="3.3" stroke-linejoin="miter" stroke-miterlimit="3"/>
<rect x="59.00" y="653.70" width="9" height="9" fill="#d01f27"/>
<rect x="92.41" y="654.69" width="9" height="9" fill="#d01f27"/>
<rect x="125.82" y="656.69" width="9" height="9" fill="#d01f27"/>
<rect x="159.23" y="633.08" width="9" height="9" fill="#d01f27"/>
<rect x="192.64" y="596.84" width="9" height="9" fill="#d01f27"/>
<rect x="226.05" y="572.57" width="9" height="9" fill="#d01f27"/>
<rect x="259.45" y="540.64" width="9" height="9" fill="#d01f27"/>
<rect x="292.86" y="532.00" width="9" height="9" fill="#d01f27"/>
<rect x="326.27" y="554.94" width="9" height="9" fill="#d01f27"/>
<rect x="359.68" y="582.87" width="9" height="9" fill="#d01f27"/>
<rect x="393.09" y="630.09" width="9" height="9" fill="#d01f27"/>
<rect x="426.50" y="658.35" width="9" height="9" fill="#d01f27"/>
<polyline points="63.50,655.53 96.91,656.20 130.32,657.53 163.73,631.26 197.14,593.02 230.55,567.42 263.95,535.50 297.36,525.53 330.77,551.13 364.18,580.06 397.59,628.60 431.00,659.52" fill="none" stroke="#2676ad" stroke-width="3.3" stroke-linejoin="miter" stroke-miterlimit="3"/>
<circle cx="63.50" cy="655.53" r="4.8" fill="#2676ad"/>
<circle cx="96.91" cy="656.20" r="4.8" fill="#2676ad"/>
<circle cx="130.32" cy="657.53" r="4.8" fill="#2676ad"/>
<circle cx="163.73" cy="631.26" r="4.8" fill="#2676ad"/>
<circle cx="197.14" cy="593.02" r="4.8" fill="#2676ad"/>
<circle cx="230.55" cy="567.42" r="4.8" fill="#2676ad"/>
<circle cx="263.95" cy="535.50" r="4.8" fill="#2676ad"/>
<circle cx="297.36" cy="525.53" r="4.8" fill="#2676ad"/>
<circle cx="330.77" cy="551.13" r="4.8" fill="#2676ad"/>
<circle cx="364.18" cy="580.06" r="4.8" fill="#2676ad"/>
<circle cx="397.59" cy="628.60" r="4.8" fill="#2676ad"/>
<circle cx="431.00" cy="659.52" r="4.8" fill="#2676ad"/>
<polyline points="63.50,654.87 96.91,653.87 130.32,652.54 163.73,622.62 197.14,581.39 230.55,556.12 263.95,522.53 297.36,514.89 330.77,540.82 364.18,571.41 397.59,622.95 431.00,657.86" fill="none" stroke="#f0b928" stroke-width="3.3" stroke-linejoin="miter" stroke-miterlimit="3"/>
<polygon points="63.50,649.47 69.10,658.57 57.90,658.57" fill="#f0b928"/>
<polygon points="96.91,648.47 102.51,657.57 91.31,657.57" fill="#f0b928"/>
<polygon points="130.32,647.14 135.92,656.24 124.72,656.24" fill="#f0b928"/>
<polygon points="163.73,617.22 169.33,626.32 158.13,626.32" fill="#f0b928"/>
<polygon points="197.14,575.99 202.74,585.09 191.54,585.09" fill="#f0b928"/>
<polygon points="230.55,550.72 236.15,559.82 224.95,559.82" fill="#f0b928"/>
<polygon points="263.95,517.13 269.55,526.24 258.35,526.24" fill="#f0b928"/>
<polygon points="297.36,509.49 302.96,518.59 291.76,518.59" fill="#f0b928"/>
<polygon points="330.77,535.42 336.37,544.52 325.17,544.52" fill="#f0b928"/>
<polygon points="364.18,566.01 369.78,575.11 358.58,575.11" fill="#f0b928"/>
<polygon points="397.59,617.55 403.19,626.65 391.99,626.65" fill="#f0b928"/>
<polygon points="431.00,652.46 436.60,661.56 425.40,661.56" fill="#f0b928"/>
<polyline points="63.50,651.88 96.91,649.88 130.32,646.89 163.73,616.30 197.14,573.74 230.55,547.47 263.95,512.56 297.36,504.58 330.77,533.84 364.18,565.10 397.59,619.62 431.00,654.87" fill="none" stroke="#30363a" stroke-width="3.3" stroke-linejoin="miter" stroke-miterlimit="3"/>
<polygon points="63.50,657.28 69.10,648.18 57.90,648.18" fill="#30363a"/>
<polygon points="96.91,655.28 102.51,646.18 91.31,646.18" fill="#30363a"/>
<polygon points="130.32,652.29 135.92,643.19 124.72,643.19" fill="#30363a"/>
<polygon points="163.73,621.70 169.33,612.60 158.13,612.60" fill="#30363a"/>
<polygon points="197.14,579.14 202.74,570.04 191.54,570.04" fill="#30363a"/>
<polygon points="230.55,552.87 236.15,543.77 224.95,543.77" fill="#30363a"/>
<polygon points="263.95,517.96 269.55,508.86 258.35,508.86" fill="#30363a"/>
<polygon points="297.36,509.98 302.96,500.88 291.76,500.88" fill="#30363a"/>
<polygon points="330.77,539.24 336.37,530.14 325.17,530.14" fill="#30363a"/>
<polygon points="364.18,570.50 369.78,561.39 358.58,561.39" fill="#30363a"/>
<polygon points="397.59,625.02 403.19,615.92 391.99,615.92" fill="#30363a"/>
<polygon points="431.00,660.27 436.60,651.17 425.40,651.17" fill="#30363a"/>
<text x="420.00" y="506.20" font-size="16" text-anchor="end" font-weight="bold" >Riyadh</text>
<line x1="76.20" y1="501.30" x2="104.20" y2="501.30" stroke="#d01f27" stroke-width="3" stroke-linecap="butt"/>
<rect x="85.70" y="496.80" width="9" height="9" fill="#d01f27"/>
<text x="110.20" y="506.80" font-size="14" text-anchor="start" font-weight="bold" >HTEST</text>
<line x1="76.20" y1="517.00" x2="104.20" y2="517.00" stroke="#2676ad" stroke-width="3" stroke-linecap="butt"/>
<circle cx="90.20" cy="517.00" r="4.8" fill="#2676ad"/>
<text x="110.20" y="522.50" font-size="14" text-anchor="start" font-weight="bold" >1mm liquid</text>
<line x1="76.20" y1="532.70" x2="104.20" y2="532.70" stroke="#f0b928" stroke-width="3" stroke-linecap="butt"/>
<polygon points="90.20,527.30 95.80,536.40 84.60,536.40" fill="#f0b928"/>
<text x="110.20" y="538.20" font-size="14" text-anchor="start" font-weight="bold" >Low-E</text>
<line x1="76.20" y1="548.40" x2="104.20" y2="548.40" stroke="#30363a" stroke-width="3" stroke-linecap="butt"/>
<polygon points="90.20,553.80 95.80,544.70 84.60,544.70" fill="#30363a"/>
<text x="110.20" y="553.90" font-size="14" text-anchor="start" font-weight="bold" >Normal glass</text>
<text transform="translate(19.5,579.0) rotate(-90)" font-size="14.5" text-anchor="middle" font-weight="bold">Monthly HVAC</text>
<text transform="translate(38,579.0) rotate(-90)" font-size="14" text-anchor="middle" font-weight="bold">Usage (MJ m<tspan dy="-5.5" font-size="9.5">−2</tspan><tspan dy="5.5">)</tspan></text>
<line x1="504.00" y1="486.20" x2="873.50" y2="486.20" stroke="#000" stroke-width="3" stroke-linecap="butt"/>
<line x1="872.00" y1="486.20" x2="872.00" y2="674.50" stroke="#000" stroke-width="3" stroke-linecap="butt"/>
<line x1="504.00" y1="669.50" x2="873.50" y2="669.50" stroke="#000" stroke-width="3.5" stroke-linecap="butt"/>
<line x1="505.50" y1="484.70" x2="505.50" y2="675.50" stroke="#000" stroke-width="3.5" stroke-linecap="butt"/>
<line x1="499.00" y1="658.00" x2="505.50" y2="658.00" stroke="#000" stroke-width="3" stroke-linecap="round"/>
<text x="499.00" y="662.40" font-size="14" text-anchor="end" font-weight="bold" >4</text>
<line x1="499.00" y1="615.00" x2="505.50" y2="615.00" stroke="#000" stroke-width="3" stroke-linecap="round"/>
<text x="499.00" y="619.40" font-size="14" text-anchor="end" font-weight="bold" >8</text>
<line x1="499.00" y1="572.00" x2="505.50" y2="572.00" stroke="#000" stroke-width="3" stroke-linecap="round"/>
<text x="499.00" y="576.40" font-size="14" text-anchor="end" font-weight="bold" >12</text>
<line x1="499.00" y1="529.00" x2="505.50" y2="529.00" stroke="#000" stroke-width="3" stroke-linecap="round"/>
<text x="499.00" y="533.40" font-size="14" text-anchor="end" font-weight="bold" >16</text>
<line x1="499.00" y1="486.00" x2="505.50" y2="486.00" stroke="#000" stroke-width="3" stroke-linecap="round"/>
<text x="499.00" y="490.40" font-size="14" text-anchor="end" font-weight="bold" >20</text>
<line x1="501.50" y1="636.50" x2="505.50" y2="636.50" stroke="#000" stroke-width="3" stroke-linecap="round"/>
<line x1="501.50" y1="593.50" x2="505.50" y2="593.50" stroke="#000" stroke-width="3" stroke-linecap="round"/>
<line x1="501.50" y1="550.50" x2="505.50" y2="550.50" stroke="#000" stroke-width="3" stroke-linecap="round"/>
<line x1="501.50" y1="507.50" x2="505.50" y2="507.50" stroke="#000" stroke-width="3" stroke-linecap="round"/>
<line x1="505.50" y1="669.50" x2="505.50" y2="675.00" stroke="#000" stroke-width="3" stroke-linecap="round"/>
<text x="507.50" y="688.70" font-size="14" text-anchor="middle" font-weight="bold" >Jan</text>
<line x1="538.82" y1="669.50" x2="538.82" y2="675.00" stroke="#000" stroke-width="3" stroke-linecap="round"/>
<text x="540.27" y="688.70" font-size="14" text-anchor="middle" font-weight="bold" >Feb</text>
<line x1="572.14" y1="669.50" x2="572.14" y2="675.00" stroke="#000" stroke-width="3" stroke-linecap="round"/>
<text x="573.04" y="688.70" font-size="14" text-anchor="middle" font-weight="bold" >Mar</text>
<line x1="605.45" y1="669.50" x2="605.45" y2="675.00" stroke="#000" stroke-width="3" stroke-linecap="round"/>
<text x="605.80" y="688.70" font-size="14" text-anchor="middle" font-weight="bold" >Apr</text>
<line x1="638.77" y1="669.50" x2="638.77" y2="675.00" stroke="#000" stroke-width="3" stroke-linecap="round"/>
<text x="638.57" y="688.70" font-size="14" text-anchor="middle" font-weight="bold" >May</text>
<line x1="672.09" y1="669.50" x2="672.09" y2="675.00" stroke="#000" stroke-width="3" stroke-linecap="round"/>
<text x="671.34" y="688.70" font-size="14" text-anchor="middle" font-weight="bold" >Jun</text>
<line x1="705.41" y1="669.50" x2="705.41" y2="675.00" stroke="#000" stroke-width="3" stroke-linecap="round"/>
<text x="704.11" y="688.70" font-size="14" text-anchor="middle" font-weight="bold" >Jul</text>
<line x1="738.73" y1="669.50" x2="738.73" y2="675.00" stroke="#000" stroke-width="3" stroke-linecap="round"/>
<text x="736.88" y="688.70" font-size="14" text-anchor="middle" font-weight="bold" >Aug</text>
<line x1="772.05" y1="669.50" x2="772.05" y2="675.00" stroke="#000" stroke-width="3" stroke-linecap="round"/>
<text x="769.65" y="688.70" font-size="14" text-anchor="middle" font-weight="bold" >Sep</text>
<line x1="805.36" y1="669.50" x2="805.36" y2="675.00" stroke="#000" stroke-width="3" stroke-linecap="round"/>
<text x="802.41" y="688.70" font-size="14" text-anchor="middle" font-weight="bold" >Oct</text>
<line x1="838.68" y1="669.50" x2="838.68" y2="675.00" stroke="#000" stroke-width="3" stroke-linecap="round"/>
<text x="835.18" y="688.70" font-size="14" text-anchor="middle" font-weight="bold" >Nov</text>
<line x1="872.00" y1="669.50" x2="872.00" y2="675.00" stroke="#000" stroke-width="3" stroke-linecap="round"/>
<text x="867.95" y="688.70" font-size="14" text-anchor="middle" font-weight="bold" >Dec</text>
<polyline points="505.50,650.04 538.82,653.70 572.14,656.28 605.45,625.75 638.77,609.62 672.09,612.85 705.41,574.15 738.73,585.98 772.05,608.01 805.36,592.42 838.68,630.48 872.00,631.99" fill="none" stroke="#d01f27" stroke-width="3.3" stroke-linejoin="miter" stroke-miterlimit="3"/>
<rect x="501.00" y="645.54" width="9" height="9" fill="#d01f27"/>
<rect x="534.32" y="649.20" width="9" height="9" fill="#d01f27"/>
<rect x="567.64" y="651.78" width="9" height="9" fill="#d01f27"/>
<rect x="600.95" y="621.25" width="9" height="9" fill="#d01f27"/>
<rect x="634.27" y="605.12" width="9" height="9" fill="#d01f27"/>
<rect x="667.59" y="608.35" width="9" height="9" fill="#d01f27"/>
<rect x="700.91" y="569.65" width="9" height="9" fill="#d01f27"/>
<rect x="734.23" y="581.48" width="9" height="9" fill="#d01f27"/>
<rect x="767.55" y="603.51" width="9" height="9" fill="#d01f27"/>
<rect x="800.86" y="587.92" width="9" height="9" fill="#d01f27"/>
<rect x="834.18" y="625.98" width="9" height="9" fill="#d01f27"/>
<rect x="867.50" y="627.49" width="9" height="9" fill="#d01f27"/>
<polyline points="505.50,636.50 538.82,639.73 572.14,644.02 605.45,611.77 638.77,594.58 672.09,598.88 705.41,558.02 738.73,570.92 772.05,595.00 805.36,576.30 838.68,617.47 872.00,618.76" fill="none" stroke="#2676ad" stroke-width="3.3" stroke-linejoin="miter" stroke-miterlimit="3"/>
<circle cx="505.50" cy="636.50" r="4.8" fill="#2676ad"/>
<circle cx="538.82" cy="639.73" r="4.8" fill="#2676ad"/>
<circle cx="572.14" cy="644.02" r="4.8" fill="#2676ad"/>
<circle cx="605.45" cy="611.77" r="4.8" fill="#2676ad"/>
<circle cx="638.77" cy="594.58" r="4.8" fill="#2676ad"/>
<circle cx="672.09" cy="598.88" r="4.8" fill="#2676ad"/>
<circle cx="705.41" cy="558.02" r="4.8" fill="#2676ad"/>
<circle cx="738.73" cy="570.92" r="4.8" fill="#2676ad"/>
<circle cx="772.05" cy="595.00" r="4.8" fill="#2676ad"/>
<circle cx="805.36" cy="576.30" r="4.8" fill="#2676ad"/>
<circle cx="838.68" cy="617.47" r="4.8" fill="#2676ad"/>
<circle cx="872.00" cy="618.76" r="4.8" fill="#2676ad"/>
<polyline points="505.50,603.17 538.82,610.70 572.14,621.45 605.45,585.98 638.77,561.25 672.09,567.70 705.41,522.55 738.73,536.52 772.05,567.70 805.36,545.12 838.68,589.20 872.00,587.59" fill="none" stroke="#f0b928" stroke-width="3.3" stroke-linejoin="miter" stroke-miterlimit="3"/>
<polygon points="505.50,597.77 511.10,606.88 499.90,606.88" fill="#f0b928"/>
<polygon points="538.82,605.30 544.42,614.40 533.22,614.40" fill="#f0b928"/>
<polygon points="572.14,616.05 577.74,625.15 566.54,625.15" fill="#f0b928"/>
<polygon points="605.45,580.58 611.05,589.68 599.85,589.68" fill="#f0b928"/>
<polygon points="638.77,555.85 644.37,564.95 633.17,564.95" fill="#f0b928"/>
<polygon points="672.09,562.30 677.69,571.40 666.49,571.40" fill="#f0b928"/>
<polygon points="705.41,517.15 711.01,526.25 699.81,526.25" fill="#f0b928"/>
<polygon points="738.73,531.12 744.33,540.23 733.13,540.23" fill="#f0b928"/>
<polygon points="772.05,562.30 777.65,571.40 766.45,571.40" fill="#f0b928"/>
<polygon points="805.36,539.73 810.96,548.83 799.76,548.83" fill="#f0b928"/>
<polygon points="838.68,583.80 844.28,592.90 833.08,592.90" fill="#f0b928"/>
<polygon points="872.00,582.19 877.60,591.29 866.40,591.29" fill="#f0b928"/>
<polyline points="505.50,580.06 538.82,589.20 572.14,603.71 605.45,563.40 638.77,538.67 672.09,545.12 705.41,502.12 738.73,512.88 772.05,550.50 805.36,522.55 838.68,564.48 872.00,565.55" fill="none" stroke="#30363a" stroke-width="3.3" stroke-linejoin="miter" stroke-miterlimit="3"/>
<polygon points="505.50,585.46 511.10,576.36 499.90,576.36" fill="#30363a"/>
<polygon points="538.82,594.60 544.42,585.50 533.22,585.50" fill="#30363a"/>
<polygon points="572.14,609.11 577.74,600.01 566.54,600.01" fill="#30363a"/>
<polygon points="605.45,568.80 611.05,559.70 599.85,559.70" fill="#30363a"/>
<polygon points="638.77,544.07 644.37,534.97 633.17,534.97" fill="#30363a"/>
<polygon points="672.09,550.52 677.69,541.42 666.49,541.42" fill="#30363a"/>
<polygon points="705.41,507.52 711.01,498.43 699.81,498.43" fill="#30363a"/>
<polygon points="738.73,518.27 744.33,509.18 733.13,509.18" fill="#30363a"/>
<polygon points="772.05,555.90 777.65,546.80 766.45,546.80" fill="#30363a"/>
<polygon points="805.36,527.95 810.96,518.85 799.76,518.85" fill="#30363a"/>
<polygon points="838.68,569.88 844.28,560.77 833.08,560.77" fill="#30363a"/>
<polygon points="872.00,570.95 877.60,561.85 866.40,561.85" fill="#30363a"/>
<text x="865.00" y="506.00" font-size="16" text-anchor="end" font-weight="bold" >Singapore</text>
<line x1="684.50" y1="611.30" x2="712.50" y2="611.30" stroke="#d01f27" stroke-width="3" stroke-linecap="butt"/>
<rect x="694.00" y="606.80" width="9" height="9" fill="#d01f27"/>
<text x="718.50" y="616.80" font-size="14" text-anchor="start" font-weight="bold" >HTEST</text>
<line x1="684.50" y1="627.00" x2="712.50" y2="627.00" stroke="#2676ad" stroke-width="3" stroke-linecap="butt"/>
<circle cx="698.50" cy="627.00" r="4.8" fill="#2676ad"/>
<text x="718.50" y="632.50" font-size="14" text-anchor="start" font-weight="bold" >1mm liquid</text>
<line x1="684.50" y1="642.70" x2="712.50" y2="642.70" stroke="#f0b928" stroke-width="3" stroke-linecap="butt"/>
<polygon points="698.50,637.30 704.10,646.40 692.90,646.40" fill="#f0b928"/>
<text x="718.50" y="648.20" font-size="14" text-anchor="start" font-weight="bold" >Low-E</text>
<line x1="684.50" y1="658.40" x2="712.50" y2="658.40" stroke="#30363a" stroke-width="3" stroke-linecap="butt"/>
<polygon points="698.50,663.80 704.10,654.70 692.90,654.70" fill="#30363a"/>
<text x="718.50" y="663.90" font-size="14" text-anchor="start" font-weight="bold" >Normal glass</text>
<text transform="translate(459,582.7) rotate(-90)" font-size="14.5" text-anchor="middle" font-weight="bold">Monthly HVAC</text>
<text transform="translate(479,583.5) rotate(-90)" font-size="14" text-anchor="middle" font-weight="bold">Usage (MJ m<tspan dy="-5.5" font-size="9.5">−2</tspan><tspan dy="5.5">)</tspan></text>
</svg>
</body></html>
